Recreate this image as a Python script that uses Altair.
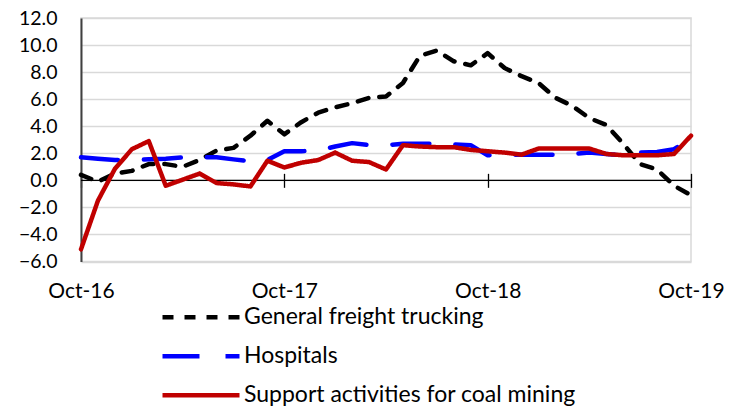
import altair as alt
import pandas as pd

# ---- data -------------------------------------------------------------
mon_names = ["Oct", "Nov", "Dec", "Jan", "Feb", "Mar", "Apr", "May", "Jun", "Jul", "Aug", "Sep"]
months = []
for k in range(37):
    yr = 16 + (k + 9) // 12
    months.append(f"{mon_names[k % 12]}-{yr}")

tick_labels = ["Oct-16", "Oct-17", "Oct-18", "Oct-19"]
y_ticks = [-6, -4, -2, 0, 2, 4, 6, 8, 10, 12]

series_names = ["General freight trucking", "Hospitals", "Support activities for coal mining"]

trucking = [0.4, -0.1, 0.5, 0.7, 1.2, 1.2, 1.0, 1.5, 2.2, 2.4, 3.3, 4.4,
            3.4, 4.3, 5.0, 5.4, 5.7, 6.1, 6.2, 7.2, 9.2, 9.6, 8.8, 8.5,
            9.4, 8.3, 7.7, 7.2, 6.1, 5.5, 4.6, 4.1, 2.7, 1.2, 0.8, -0.4, -1.1]

hospitals = [1.7, 1.6, 1.5, 1.5, 1.55, 1.6, 1.7, 1.7, 1.7, 1.55, 1.4, 1.5,
             2.15, 2.15, 2.2, 2.5, 2.75, 2.6, 2.6, 2.7, 2.7, 2.7, 2.65, 2.6,
             1.85, 1.9, 1.9, 1.9, 1.9, 1.95, 2.05, 1.95, 1.85, 2.05, 2.1, 2.3, 3.1]

coal = [-5.1, -1.5, 0.85, 2.3, 2.9, -0.4, 0.05, 0.5, -0.2, -0.3, -0.45, 1.45,
        0.95, 1.3, 1.5, 2.05, 1.45, 1.35, 0.8, 2.6, 2.5, 2.45, 2.45, 2.25,
        2.15, 2.05, 1.9, 2.35, 2.35, 2.35, 2.35, 1.95, 1.85, 1.85, 1.85, 1.95, 3.3]

colors = ["#000000", "#0000FF", "#C00000"]
dashes = [[11, 11], [37, 26], [1, 0]]
widths = [4.5, 4.5, 4.0]

rows = []
for name, vals in zip(series_names, [trucking, hospitals, coal]):
    for m, v in zip(months, vals):
        rows.append({"month": m, "value": v, "series": name})
df = pd.DataFrame(rows)

# ---- layout -----------------------------------------------------------
W, H = 610, 243.5
YMIN, YMAX = -6, 12
zero_from_bottom = H * (0 - YMIN) / (YMAX - YMIN)
FONT = "Lato"

x_scale = alt.Scale(domain=months, padding=0)
y_scale = alt.Scale(domain=[YMIN, YMAX], nice=False, zero=False)

y_axis = alt.Axis(values=y_ticks, format=".1f",
                  ticks=False, domain=True, domainColor="#404040", domainWidth=2,
                  grid=True, gridColor="#d9d9d9", gridWidth=1.5,
                  labelFontSize=19.5, labelFont=FONT, labelColor="black",
                  labelPadding=24, labelOverlap=False, labelBound=False)

legend = alt.Legend(
    title=None, orient="none", legendX=79, legendY=280, direction="vertical",
    symbolType="stroke", symbolSize=5929, symbolStrokeWidth=4.5,
    labelFontSize=23, labelFont=FONT, labelColor="black", labelOffset=2,
    clipHeight=38.5, rowPadding=0, padding=0, labelLimit=450,
)

lines = alt.Chart(df).mark_line(strokeCap="round", strokeJoin="round").encode(
    x=alt.X("month:O", scale=x_scale, title=None,
            axis=alt.Axis(values=tick_labels, labelAngle=0, ticks=False, domain=False,
                          grid=False, labelFontSize=21, labelFont=FONT, labelColor="black",
                          labelPadding=19, orient="bottom")),
    y=alt.Y("value:Q", scale=y_scale, title=None, axis=y_axis),
    color=alt.Color("series:N", scale=alt.Scale(domain=series_names, range=colors), legend=legend),
    strokeDash=alt.StrokeDash("series:N", scale=alt.Scale(domain=series_names, range=dashes), legend=legend),
    strokeWidth=alt.StrokeWidth("series:N", scale=alt.Scale(domain=series_names, range=widths), legend=None),
)

zero_line = alt.Chart(pd.DataFrame({"y": [0]})).mark_rule(color="black", strokeWidth=1.3).encode(
    y=alt.Y("y:Q", scale=y_scale, title=None, axis=y_axis)
)

tick_layer = alt.Chart(pd.DataFrame({"month": tick_labels, "y": [0] * 4})).mark_point(opacity=0).encode(
    x=alt.X("month:O", scale=x_scale, title=None,
            axis=alt.Axis(values=tick_labels, labels=False, ticks=True, tickSize=14,
                          tickColor="black", tickWidth=1.3, domain=False, grid=False,
                          orient="bottom", offset=-(zero_from_bottom + 7))),
    y=alt.Y("y:Q", scale=y_scale, title=None, axis=y_axis),
)

chart = alt.layer(zero_line, tick_layer, lines).resolve_axis(x="independent").properties(
    width=W, height=H,
    autosize=alt.AutoSizeParams(type="none"),
    padding={"left": 73, "top": 10, "right": 40, "bottom": 145},
).configure_view(stroke="#d9d9d9", strokeWidth=1.5)

chart.save("out.html", embed_options={"renderer": "svg", "actions": False})
